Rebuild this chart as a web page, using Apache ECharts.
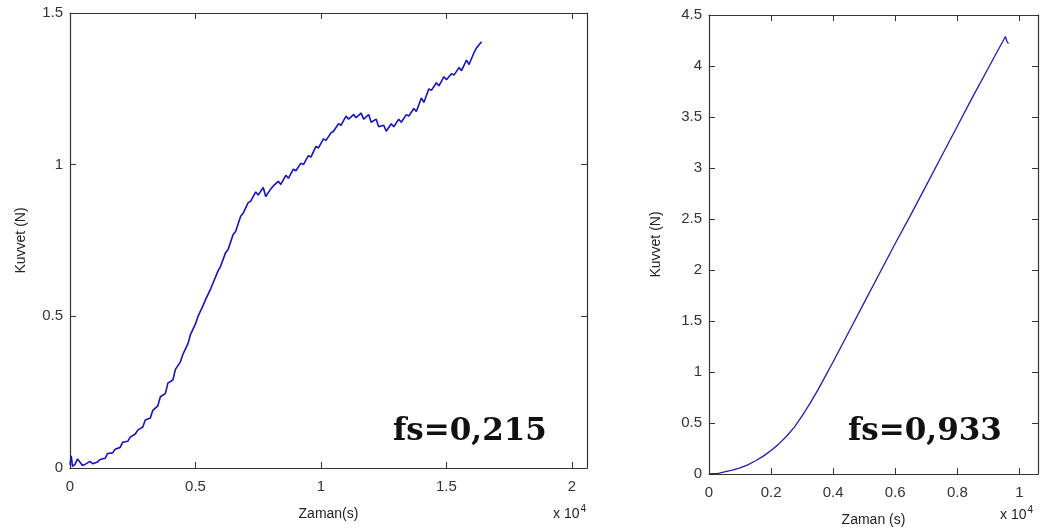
<!DOCTYPE html>
<html>
<head>
<meta charset="utf-8">
<script src="https://cdn.jsdelivr.net/npm/echarts@6/dist/echarts.min.js"></script>
<style>html,body{margin:0;padding:0;background:#fff}#c{width:1055px;height:530px}</style>
</head>
<body>
<div id="c"></div>
<script>
// Left panel: time (x 10^4 s), force (N)
const seriesA = [
[0,0.010],[0.005,0.040],[0.01,0.005],[0.02,0.012],[0.03,0.030],[0.05,0.008],[0.06,0.012],[0.08,0.022],[0.09,0.014],
[0.11,0.020],[0.12,0.028],[0.14,0.032],[0.15,0.048],[0.17,0.050],[0.18,0.062],[0.2,0.068],[0.21,0.085],[0.23,0.088],
[0.24,0.102],[0.26,0.112],[0.27,0.125],[0.29,0.135],[0.3,0.158],[0.32,0.165],[0.33,0.190],[0.35,0.205],[0.36,0.235],
[0.38,0.245],[0.39,0.280],[0.41,0.290],[0.42,0.325],[0.44,0.350],[0.45,0.375],[0.47,0.410],[0.48,0.440],[0.5,0.475],
[0.51,0.500],[0.53,0.535],[0.54,0.555],[0.56,0.590],[0.57,0.610],[0.59,0.650],[0.6,0.665],[0.62,0.710],[0.63,0.720],
[0.65,0.770],[0.66,0.780],[0.68,0.830],[0.69,0.840],[0.71,0.875],[0.72,0.880],[0.74,0.910],[0.75,0.900],[0.77,0.925],
[0.78,0.895],[0.8,0.920],[0.81,0.930],[0.83,0.945],[0.84,0.935],[0.86,0.965],[0.87,0.955],[0.89,0.985],[0.9,0.980],
[0.92,1.005],[0.93,1.000],[0.95,1.030],[0.96,1.025],[0.98,1.060],[0.99,1.055],[1.01,1.085],[1.02,1.080],[1.04,1.105],
[1.05,1.110],[1.07,1.135],[1.08,1.130],[1.1,1.160],[1.11,1.150],[1.13,1.165],[1.14,1.155],[1.16,1.170],[1.17,1.150],
[1.19,1.165],[1.2,1.140],[1.22,1.150],[1.23,1.125],[1.25,1.130],[1.26,1.110],[1.28,1.135],[1.29,1.125],[1.31,1.150],
[1.32,1.140],[1.34,1.165],[1.35,1.160],[1.37,1.185],[1.38,1.175],[1.4,1.220],[1.41,1.205],[1.43,1.250],[1.44,1.245],
[1.46,1.270],[1.47,1.260],[1.49,1.290],[1.5,1.280],[1.52,1.300],[1.53,1.295],[1.55,1.320],[1.56,1.310],[1.58,1.345],
[1.59,1.330],[1.61,1.370],[1.62,1.385],[1.63,1.395],[1.64,1.405]
];
// Right panel: time (x 10^4 s), force (N)
const seriesB = [
[0,0],[0.03,0.005],[0.05,0.02],[0.075,0.038],[0.1,0.06],[0.125,0.09],[0.15,0.13],[0.175,0.175],[0.2,0.23],
[0.225,0.295],[0.25,0.37],[0.275,0.46],[0.3,0.57],[0.325,0.69],[0.35,0.82],[0.375,0.96],[0.4,1.10],
[0.45,1.39],[0.5,1.68],[0.55,1.97],[0.6,2.26],[0.65,2.54],[0.7,2.83],[0.75,3.12],[0.8,3.41],[0.85,3.70],[0.9,3.98],
[0.93,4.15],[0.95,4.26],[0.955,4.29],[0.96,4.24],[0.965,4.22]
];
const xTicksA = [0,0.5,1,1.5,2];
const yTicksA = [0,0.5,1,1.5];
const xTicksB = [0,0.2,0.4,0.6,0.8,1];
const yTicksB = [0,0.5,1,1.5,2,2.5,3,3.5,4,4.5];
const xMaxA = 2.06, yMaxA = 1.5, xMaxB = 1.06, yMaxB = 4.5;
const xNameA = 'Zaman(s)', xNameB = 'Zaman (s)', yName = 'Kuvvet (N)';
const noteA = 'fs=0,215', noteB = 'fs=0,933';

const AX = '#333';
const FONT = 'Liberation Sans, Arial, sans-serif';
const lbl = {color:'#333', fontSize:15, fontFamily:FONT};
function xAx(grid, max, ticks, name, pos){
  const main = pos === 'bottom';
  return {type:'value', gridIndex:grid, position:pos, min:0, max:max,
    name: main ? name : '', nameLocation:'middle', nameGap:39,
    nameTextStyle:{color:'#222', fontSize:14, fontFamily:FONT},
    axisLine:{show:true, onZero:false, lineStyle:{color:AX, width:1.2}},
    axisTick:{show:true, inside:true, length:6, customValues:ticks, lineStyle:{color:AX}},
    axisLabel:{show:main, customValues:ticks, margin:11, ...lbl},
    splitLine:{show:false}};
}
function yAx(grid, max, ticks, pos, gap){
  const main = pos === 'left';
  return {type:'value', gridIndex:grid, position:pos, min:0, max:max, interval:0.5,
    name: main ? yName : '', nameLocation:'middle', nameGap:gap,
    nameTextStyle:{color:'#222', fontSize:14, fontFamily:FONT},
    axisLine:{show:true, onZero:false, lineStyle:{color:AX, width:1.2}},
    axisTick:{show:true, inside:true, length:6, lineStyle:{color:AX}},
    axisLabel:{show:main, margin:7, ...lbl},
    splitLine:{show:false}};
}
const chart = echarts.init(document.getElementById('c'), null, {renderer:'canvas'});
chart.setOption({
  backgroundColor:'#fff',
  animation:false,
  grid:[
    {left:70, top:13, width:517, height:455, containLabel:false, outerBoundsMode:'none'},
    {left:709, top:15, width:329, height:459, containLabel:false, outerBoundsMode:'none'}
  ],
  xAxis:[
    xAx(0, xMaxA, xTicksA, xNameA, 'bottom'),
    xAx(0, xMaxA, xTicksA, xNameA, 'top'),
    xAx(1, xMaxB, xTicksB, xNameB, 'bottom'),
    xAx(1, xMaxB, xTicksB, xNameB, 'top')
  ],
  yAxis:[
    yAx(0, yMaxA, yTicksA, 'left', 42),
    yAx(0, yMaxA, yTicksA, 'right', 0),
    yAx(1, yMaxB, yTicksB, 'left', 46),
    yAx(1, yMaxB, yTicksB, 'right', 0)
  ],
  series:[
    {type:'line', xAxisIndex:0, yAxisIndex:0, data:seriesA, showSymbol:false, lineStyle:{color:'#1414B8', width:1.6}, silent:true},
    {type:'line', xAxisIndex:2, yAxisIndex:2, data:seriesB, showSymbol:false, lineStyle:{color:'#1E1EA8', width:1.3}, silent:true}
  ],
  graphic:[
    {type:'text', left:553, top:504, style:{text:'{a|x 10}{s|4}', rich:{a:{fontSize:14, fill:'#222', fontFamily:FONT}, s:{fontSize:10, fill:'#222', fontFamily:FONT, verticalAlign:'top', padding:[0,0,10,1]}}}},
    {type:'text', left:1000, top:505, style:{text:'{a|x 10}{s|4}', rich:{a:{fontSize:14, fill:'#222', fontFamily:FONT}, s:{fontSize:10, fill:'#222', fontFamily:FONT, verticalAlign:'top', padding:[0,0,10,1]}}}},
    {type:'text', left:393, top:416, style:{text:noteA, fill:'#111', fontSize:31, fontWeight:'bold', fontFamily:'DejaVu Serif, serif'}},
    {type:'text', left:848, top:416, style:{text:noteB, fill:'#111', fontSize:31, fontWeight:'bold', fontFamily:'DejaVu Serif, serif'}}
  ]
});
</script>
</body>
</html>
